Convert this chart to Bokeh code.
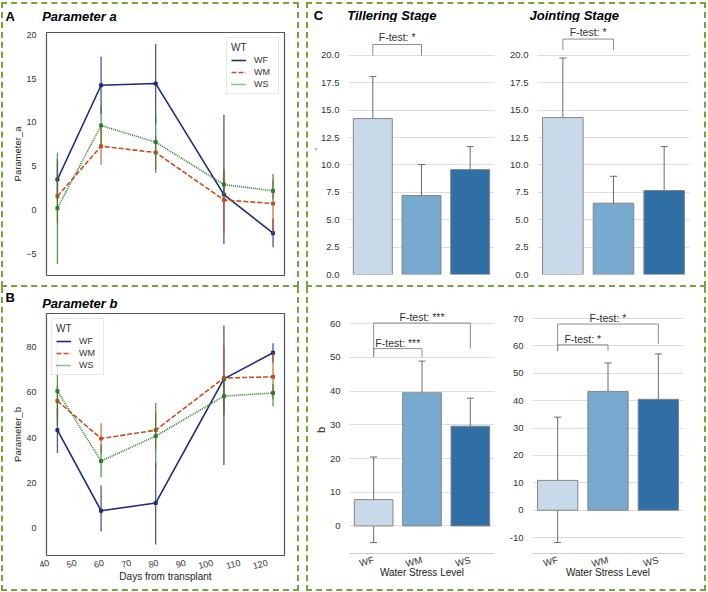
import numpy as np
from bokeh.plotting import figure
from bokeh.models import (Range1d, FixedTicker, Legend, LegendItem, Whisker,
                          TeeHead, ColumnDataSource, PrintfTickFormatter, Spacer)
from bokeh.layouts import row, column
from bokeh.embed import file_html
from bokeh.resources import INLINE
from bokeh.core.properties import value

FONT = "Liberation Sans"

# ---------------- data ----------------
days = [43, 59, 79, 104, 122]
groups = ["WF", "WM", "WS"]

a_WF = [3.49, 14.25, 14.44, 1.77, -2.64]
a_WF_lo = [1.2, 11.0, 9.9, -3.86, -4.24]
a_WF_hi = [5.8, 17.5, 18.97, 10.87, -1.0]
a_WM = [1.58, 7.29, 6.57, 1.16, 0.74]
a_WM_lo = [-1.5, 5.16, 4.6, -2.7, -2.7]
a_WM_hi = [4.5, 9.4, 8.5, 4.5, 3.5]
a_WS = [0.21, 9.65, 7.75, 2.91, 2.19]
a_WS_lo = [-6.14, 7.6, 4.25, 1.5, 1.2]
a_WS_hi = [6.53, 11.93, 10.8, 4.7, 4.13]

b_WF = [43.3, 7.8, 11.2, 65.9, 77.4]
b_WF_lo = [33.3, -1.3, -7.0, 28.0, 73.0]
b_WF_hi = [53.0, 18.9, 29.0, 89.4, 81.6]
b_WM = [56.2, 39.6, 43.3, 66.3, 66.8]
b_WM_lo = [49.0, 33.0, 35.0, 50.5, 57.0]
b_WM_hi = [63.0, 46.4, 51.0, 80.6, 77.6]
b_WS = [60.5, 29.7, 40.7, 58.3, 59.7]
b_WS_lo = [45.4, 22.6, 26.3, 49.8, 53.7]
b_WS_hi = [82.8, 37.0, 55.3, 66.6, 63.7]

stress_levels = ["WF", "WM", "WS"]
till_a = [14.24, 7.21, 9.58]
till_a_lo = [10.31, 4.44, 7.58]
till_a_hi = [18.07, 10.04, 11.68]
join_a = [14.33, 6.51, 7.67]
join_a_lo = [8.97, 4.08, 3.74]
join_a_hi = [19.77, 8.97, 11.68]
till_b = [7.8, 39.5, 29.6]
till_b_lo = [-4.94, 30.3, 21.4]
till_b_hi = [20.45, 48.9, 37.9]
join_b = [10.9, 43.4, 40.5]
join_b_lo = [-11.8, 32.8, 23.7]
join_b_hi = [34.0, 53.8, 57.1]

a_ticks = [-5, 0, 5, 10, 15, 20]
b_ticks = [0, 20, 40, 60, 80]
day_ticks = [40, 50, 60, 70, 80, 90, 100, 110, 120]
bar_a_ticks = [0, 2.5, 5, 7.5, 10, 12.5, 15, 17.5, 20]
bar_b1_ticks = [0, 10, 20, 30, 40, 50, 60]
bar_b2_ticks = [-10, 0, 10, 20, 30, 40, 50, 60, 70]

# F-test brackets: (from group, to group, left leg bottom, right leg bottom, top, text y, text)
br_till_a = [("WF", "WM", 20.0, 20.0, 21.0, 21.65, "F-test: *")]
br_join_a = [("WF", "WM", 20.5, 20.5, 21.5, 22.15, "F-test: *")]
br_till_b = [("WF", "WS", 50.1, 52.6, 60.2, 62.0, "F-test: ***"),
             ("WF", "WM", 50.1, 50.1, 52.6, 54.4, "F-test: ***")]
br_join_b = [("WF", "WS", 58.1, 60.8, 68.0, 70.2, "F-test: *"),
             ("WF", "WM", 58.1, 58.1, 60.4, 62.7, "F-test: *")]

# panel headings: (text, x, y in header pixels, style)
head_A = [("A", 2, 10.5, "bold"), ("Parameter a", 38.7, 10, "bold italic")]
head_B = [("B", 2, 14.3, "bold"), ("Parameter b", 38.7, 8, "bold italic")]
head_C = [("C", 5.3, 7, "bold"), ("Tillering Stage", 38.7, 7, "bold italic"),
          ("Jointing Stage", 221, 7, "bold italic")]

# ---------------- styles ----------------
LINE_COLORS = {"WF": "#1f2a7c", "WM": "#c2501f", "WS": "#2b7d2b"}
LINE_DASH = {"WF": "solid", "WM": "5 2", "WS": "1 1"}
BAR_COLORS = ["#c8d9ea", "#78a9cf", "#306ea6"]
DASH = "2px dashed #78a03c"
BORDER_ALL = {"border": DASH}
BORDER_NO_TOP = {"border-left": DASH, "border-right": DASH, "border-bottom": DASH}


def style_axis(ax, size="9px"):
    ax.axis_line_color = None
    ax.major_tick_line_color = None
    ax.minor_tick_line_color = None
    ax.major_label_text_font = FONT
    ax.major_label_text_font_size = size
    ax.major_label_text_color = "#333333"
    ax.axis_label_text_font = FONT
    ax.axis_label_text_font_style = "normal"
    ax.axis_label_text_color = "#222222"


def header(w, h, items):
    p = figure(width=w, height=h, x_range=Range1d(0, w), y_range=Range1d(0, h),
               output_backend="svg", toolbar_location=None, min_border=0,
               x_axis_location=None, y_axis_location=None)
    p.grid.visible = False
    p.outline_line_color = None
    p.background_fill_color = "white"
    p.border_fill_color = "white"
    for txt, x, y, style in items:
        p.text(x=[x], y=[y], text=[txt], text_font=value(FONT), text_font_size="13px",
               text_font_style=value(style), text_baseline="middle", text_align="left",
               text_color="#000000")
    return p


def line_panel(series, yr, yticks, ylab, w, h, mbl, mbr, mbt, mbb, show_x, legend_loc):
    p = figure(width=w, height=h, x_range=Range1d(39.0, 126.2), y_range=Range1d(*yr),
               output_backend="svg", toolbar_location=None,
               min_border_left=mbl, min_border_right=mbr, min_border_top=mbt, min_border_bottom=mbb)
    p.grid.visible = False
    p.outline_line_color = "#555555"
    p.outline_line_width = 1.2
    p.background_fill_color = "white"
    p.border_fill_color = "white"
    style_axis(p.yaxis[0])
    p.yaxis.ticker = FixedTicker(ticks=yticks)
    p.yaxis.axis_label = ylab
    p.yaxis.axis_label_text_font_size = "9.5px"
    p.yaxis.major_label_standoff = 4
    p.yaxis.axis_label_standoff = 0
    if show_x:
        style_axis(p.xaxis[0])
        p.xaxis.ticker = FixedTicker(ticks=day_ticks)
        p.xaxis.major_label_orientation = 0.25
        p.xaxis.major_label_standoff = 1
        p.xaxis.axis_label = "Days from transplant"
        p.xaxis.axis_label_text_font_size = "10px"
        p.xaxis.axis_label_standoff = -4
    else:
        p.xaxis.visible = False
    items = []
    for g, (m, lo, hi) in zip(groups, series):
        c = LINE_COLORS[g]
        r = p.line(days, m, line_color=c, line_width=1.6, line_dash=LINE_DASH[g])
        p.segment(x0=days, y0=lo, x1=days, y1=hi, line_color=c, line_width=1.3, line_alpha=0.8)
        p.scatter(days, m, marker="square", size=3, fill_color=c, line_color=c)
        items.append(LegendItem(label=g, renderers=[r]))
    leg = Legend(items=items, location=legend_loc, title="WT",
                 title_text_font=FONT, title_text_font_size="10px", title_text_font_style="normal",
                 title_text_color="#333333", title_standoff=2,
                 label_text_font=FONT, label_text_font_size="9px", label_text_color="#333333",
                 glyph_width=15, glyph_height=10, label_height=10, label_standoff=8,
                 spacing=2, padding=4, margin=5,
                 border_line_color="#d0d0d0", background_fill_alpha=0.85)
    p.add_layout(leg)
    return p


def bar_panel(vals, lo, hi, brackets, w, h, mbl, mbr, mbt, mbb, yr, yticks, fmt,
              show_x, ylab=None, ylab_size="11px", tick_standoff=3):
    p = figure(width=w, height=h, x_range=Range1d(-0.5, 2.5), y_range=Range1d(*yr),
               output_backend="svg", toolbar_location=None,
               min_border_left=mbl, min_border_right=mbr, min_border_top=mbt, min_border_bottom=mbb)
    p.outline_line_color = None
    p.background_fill_color = "white"
    p.border_fill_color = "white"
    p.xgrid.visible = False
    p.ygrid.grid_line_color = "#dcdcdc"
    p.ygrid.grid_line_width = 1
    style_axis(p.yaxis[0], "9.5px")
    p.yaxis.ticker = FixedTicker(ticks=yticks)
    p.ygrid.ticker = FixedTicker(ticks=yticks)
    p.yaxis.formatter = PrintfTickFormatter(format=fmt)
    p.yaxis.major_label_standoff = tick_standoff
    if ylab:
        p.yaxis.axis_label = ylab
        p.yaxis.axis_label_text_font_size = ylab_size
        p.yaxis.axis_label_standoff = 0
    xs = list(range(len(stress_levels)))
    if show_x:
        style_axis(p.xaxis[0], "9.5px")
        p.xaxis.axis_line_color = "#cccccc"
        p.xaxis.ticker = FixedTicker(ticks=xs)
        p.xaxis.major_label_overrides = {i: s for i, s in enumerate(stress_levels)}
        p.xaxis.major_label_orientation = 0.25
        p.xaxis.major_label_standoff = 0
        p.xaxis.axis_label = "Water Stress Level"
        p.xaxis.axis_label_text_font_size = "10px"
        p.xaxis.axis_label_standoff = -10
    else:
        p.xaxis.visible = False
    p.vbar(x=xs, top=vals, bottom=0, width=0.8, fill_color=BAR_COLORS,
           line_color="#858585", line_width=1)
    src = ColumnDataSource(dict(x=xs, lo=lo, hi=hi))
    p.add_layout(Whisker(source=src, base="x", upper="hi", lower="lo",
                         line_color="#6b6b6b", line_width=1,
                         upper_head=TeeHead(size=7, line_color="#6b6b6b", line_width=1),
                         lower_head=TeeHead(size=7, line_color="#6b6b6b", line_width=1)))
    for g0, g1, l0, l1, top, ty, txt in brackets:
        i0, i1 = stress_levels.index(g0), stress_levels.index(g1)
        p.line(x=[i0, i0, i1, i1], y=[l0, top, top, l1], line_color="#8c8c8c", line_width=1)
        p.text(x=[(i0 + i1) / 2], y=[ty], text=[txt], text_align="center",
               text_baseline="middle", text_font=value(FONT), text_font_size="10.5px",
               text_color="#333333")
    return p


# ---------------- panels ----------------
hA = header(294, 22, head_A)
figA = line_panel([(a_WF, a_WF_lo, a_WF_hi), (a_WM, a_WM_lo, a_WM_hi), (a_WS, a_WS_lo, a_WS_hi)],
                  (-7.47, 20.27), a_ticks, "Parameter_a", 288, 259, 31, 13, 6, 10, False, "top_right")

hB = header(294, 24, head_B)
figB = line_panel([(b_WF, b_WF_lo, b_WF_hi), (b_WM, b_WM_lo, b_WM_hi), (b_WS, b_WS_lo, b_WS_hi)],
                  (-11.9, 94.7), b_ticks, "Parameter_b", 288, 278, 31, 13, 2, 34, True, "top_left")

hC = header(396, 18, head_C)
c1 = bar_panel(till_a, till_a_lo, till_a_hi, br_till_a, 196, 260, 32, 12, 2, 8,
               (0, 22.83), bar_a_ticks, "%.1f", False, ylab="a", ylab_size="4px")
c2 = bar_panel(join_a, join_a_lo, join_a_hi, br_join_a, 198, 260, 31, 15, 2, 8,
               (0, 22.83), bar_a_ticks, "%.1f", False)

d1 = bar_panel(till_b, till_b_lo, till_b_hi, br_till_b, 195, 302, 31, 12, 19, 36,
               (-8.18, 65.1), bar_b1_ticks, "%d", True, ylab="b", ylab_size="11px")
d2 = bar_panel(join_b, join_b_lo, join_b_hi, br_join_b, 198, 302, 25, 21, 19, 36,
               (-15.8, 74.4), bar_b2_ticks, "%d", True)

boxA = column(hA, row(Spacer(width=6), figA), styles=BORDER_ALL)
boxB = column(hB, row(Spacer(width=6), figB), styles=BORDER_NO_TOP)
boxC = column(hC, row(Spacer(width=2), c1, c2), Spacer(height=3), styles=BORDER_ALL)
boxD = column(row(Spacer(width=3), d1, d2), styles=BORDER_NO_TOP)

layout = row(Spacer(width=1),
             column(Spacer(height=2),
                    row(column(boxA, boxB), Spacer(width=7), column(boxC, boxD))))

open("out.html", "w").write(file_html(layout, INLINE))
